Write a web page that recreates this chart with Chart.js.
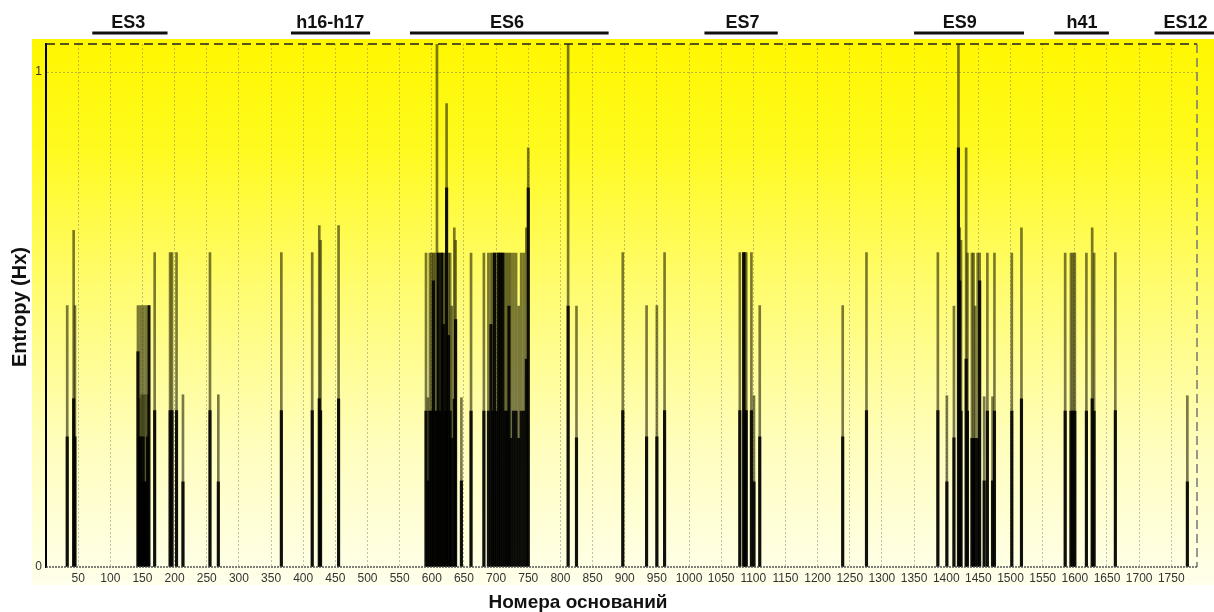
<!DOCTYPE html>
<html>
<head>
<meta charset="utf-8">
<script src="https://cdn.jsdelivr.net/npm/chart.js"></script>
<style>
  body { margin: 0; background: #fff; }
  #wrap { width: 1214px; height: 612px; }
</style>
</head>
<body>
<div id="wrap"><canvas id="chart" width="1214" height="612"></canvas></div>
<script>
// номера оснований (позиции) и значения энтропии
const positions = [
  33, 43, 45,
  143, 145, 147, 149, 151, 153, 155, 158, 160, 169,
  193, 196, 203, 213, 255, 268, 366, 414, 425, 427, 455,
  591, 594, 597, 600, 602.5, 605, 608, 610, 613, 615.5, 618, 621, 623, 626, 628.5, 631, 635, 637, 646, 661,
  681, 688, 692, 695, 697.5, 701, 704, 707, 710.5, 714, 717, 720, 723, 727, 731, 735, 739, 743, 747, 750,
  812, 825,
  897, 934, 950, 962, 1079, 1085, 1087, 1089, 1097, 1101, 1110,
  1239, 1276, 1387, 1401,
  1412, 1419, 1421, 1423, 1431, 1433, 1440, 1442.5, 1445, 1449, 1452, 1459, 1464, 1472, 1475, 1502, 1517,
  1585, 1594, 1597, 1600, 1618, 1627, 1630, 1663, 1775
];
// верх тонкой линии
const hxPeak = [
  0.528, 0.68, 0.528,
  0.528, 0.34, 0.528, 0.348, 0.528, 0.348, 0.528, 0.348, 0.528, 0.635,
  0.635, 0.635, 0.635, 0.348, 0.635, 0.348, 0.635, 0.635, 0.69, 0.66, 0.69,
  0.634, 0.342, 0.634, 0.634, 0.634, 0.634, 1.06, 0.634, 0.634, 0.634, 0.634, 0.634, 0.936, 0.634, 0.634, 0.527, 0.685, 0.66, 0.342, 0.634,
  0.634, 0.634, 0.634, 0.634, 0.634, 0.634, 0.634, 0.634, 0.634, 0.634, 0.634, 0.634, 0.634, 0.634, 0.634, 0.527, 0.634, 0.634, 0.685, 0.847,
  1.06, 0.527,
  0.635, 0.528, 0.528, 0.635, 0.635, 0.635, 0.635, 0.635, 0.635, 0.346, 0.528,
  0.528, 0.635, 0.635, 0.346,
  0.527, 1.06, 0.685, 0.66, 0.847, 0.634, 0.634, 0.634, 0.527, 0.634, 0.634, 0.344, 0.634, 0.344, 0.634, 0.634, 0.685,
  0.634, 0.634, 0.634, 0.634, 0.634, 0.685, 0.634, 0.635, 0.346
];
// тёмная (плотная) часть
const hxCore = [
  0.263, 0.34, 0.263,
  0.435, 0.263, 0.263, 0.172, 0.263, 0.172, 0.172, 0.263, 0.528, 0.316,
  0.316, 0.316, 0.316, 0.172, 0.316, 0.172, 0.316, 0.316, 0.34, 0.316, 0.34,
  0.315, 0.174, 0.315, 0.315, 0.578, 0.315, 0.315, 0.634, 0.315, 0.634, 0.49, 0.315, 0.766, 0.468, 0.315, 0.26, 0.339, 0.5, 0.174, 0.315,
  0.315, 0.315, 0.49, 0.315, 0.634, 0.315, 0.634, 0.634, 0.634, 0.315, 0.315, 0.527, 0.26, 0.315, 0.315, 0.26, 0.315, 0.315, 0.42, 0.766,
  0.527, 0.261,
  0.316, 0.263, 0.263, 0.316, 0.316, 0.635, 0.316, 0.316, 0.316, 0.172, 0.263,
  0.263, 0.316, 0.316, 0.172,
  0.261, 0.847, 0.578, 0.315, 0.42, 0.315, 0.26, 0.26, 0.26, 0.26, 0.578, 0.174, 0.315, 0.174, 0.315, 0.315, 0.34,
  0.315, 0.315, 0.315, 0.315, 0.315, 0.34, 0.315, 0.316, 0.172
];

const xTickValues = [50,100,150,200,250,300,350,400,450,500,550,600,650,700,750,800,850,900,950,1000,
  1050,1100,1150,1200,1250,1300,1350,1400,1450,1500,1550,1600,1650,1700,1750];
const yTickValues = [0, 1];

// участки над графиком
const regionNames = ['ES3', 'h16-h17', 'ES6', 'ES7', 'ES9', 'h41', 'ES12'];
const regionStart = [72, 381, 566, 1024, 1350, 1568, 1724];
const regionEnd   = [189, 504, 875, 1138, 1521, 1653, 1820];
const regionLabel = [128, 442, 717, 1083, 1421, 1611, 1772];

const X_MAX = 1790;
const Y_MAX = 1.0566;

const FONT = '"Liberation Sans", Arial, sans-serif';

const decorPlugin = {
  id: 'decor',
  beforeDraw(chart) {
    const ctx = chart.ctx;
    ctx.save();
    const g = ctx.createLinearGradient(0, 39, 0, 585);
    g.addColorStop(0, 'rgb(255,247,0)');
    g.addColorStop(0.2, 'rgb(255,250,30)');
    g.addColorStop(0.45, 'rgb(255,252,110)');
    g.addColorStop(0.75, 'rgb(255,254,190)');
    g.addColorStop(1, 'rgb(255,255,235)');
    ctx.fillStyle = g;
    ctx.fillRect(32, 39, 1214 - 32, 585 - 39);
    ctx.restore();
  },
  afterDraw(chart) {
    const ctx = chart.ctx;
    const a = chart.chartArea;
    const xs = chart.scales.x;
    ctx.save();
    // рамка: верх и право пунктиром, низ точками
    ctx.setLineDash([9, 5]);
    ctx.lineWidth = 1.5;
    ctx.strokeStyle = '#222';
    ctx.beginPath();
    ctx.moveTo(a.left, a.top);
    ctx.lineTo(a.right, a.top);
    ctx.stroke();
    ctx.strokeStyle = '#777';
    ctx.beginPath();
    ctx.moveTo(a.right, a.top);
    ctx.lineTo(a.right, a.bottom);
    ctx.stroke();
    ctx.setLineDash([2, 1]);
    ctx.strokeStyle = '#555';
    ctx.beginPath();
    ctx.moveTo(a.left, a.bottom);
    ctx.lineTo(a.right, a.bottom);
    ctx.stroke();
    ctx.setLineDash([]);

    // подписи участков
    ctx.fillStyle = '#111';
    ctx.strokeStyle = '#111';
    ctx.lineWidth = 3;
    ctx.font = 'bold 18px ' + FONT;
    ctx.textAlign = 'center';
    ctx.textBaseline = 'alphabetic';
    regionNames.forEach((name, i) => {
      const x1 = xs.getPixelForValue(regionStart[i]);
      const x2 = Math.min(xs.getPixelForValue(regionEnd[i]), 1214);
      ctx.beginPath();
      ctx.moveTo(x1, 33);
      ctx.lineTo(x2, 33);
      ctx.stroke();
      ctx.fillText(name, xs.getPixelForValue(regionLabel[i]), 28);
    });

    // заголовки осей
    ctx.font = 'bold 19px ' + FONT;
    ctx.fillText('Номера оснований', 578, 608);
    ctx.translate(26, 307);
    ctx.rotate(-Math.PI / 2);
    ctx.font = 'bold 20px ' + FONT;
    ctx.fillText('Entropy (Hx)', 0, 0);
    ctx.restore();
  }
};

const toPoints = vals => positions.map((p, i) => ({ x: p, y: vals[i] }));

new Chart(document.getElementById('chart'), {
  type: 'bar',
  data: {
    datasets: [
      {
        label: 'core',
        data: toPoints(hxCore),
        backgroundColor: 'rgba(0,0,0,0.88)',
        barThickness: 2.5,
        grouped: false
      },
      {
        label: 'Hx',
        data: toPoints(hxPeak),
        backgroundColor: 'rgba(40,40,5,0.62)',
        barThickness: 2,
        grouped: false
      }
    ]
  },
  options: {
    responsive: false,
    animation: false,
    devicePixelRatio: 1,
    layout: { padding: { top: 44, right: 17, left: 0, bottom: 0 } },
    plugins: { legend: { display: false }, tooltip: { enabled: false } },
    scales: {
      x: {
        type: 'linear',
        min: 0,
        max: X_MAX,
        offset: false,
        afterBuildTicks: s => { s.ticks = xTickValues.map(v => ({ value: v })); },
        afterFit: s => { s.height = 45; },
        ticks: {
          color: '#333', font: { family: FONT, size: 12 }, padding: 4, maxRotation: 0, autoSkip: false,
          callback: v => String(v)
        },
        grid: { offset: false, drawTicks: false, color: 'rgba(120,120,100,0.45)', lineWidth: 1 },
        border: { display: false, dash: [2, 2] }
      },
      y: {
        min: 0,
        max: Y_MAX,
        afterBuildTicks: s => { s.ticks = yTickValues.map(v => ({ value: v })); },
        afterFit: s => { s.width = 46; },
        ticks: { color: '#333', font: { family: FONT, size: 12 }, padding: 4, callback: v => String(v) },
        grid: {
          drawTicks: false,
          color: c => (c.tick && c.tick.value === 1 ? 'rgba(120,120,100,0.5)' : 'transparent')
        },
        border: { color: '#000', width: 2, dash: [2, 2] }
      }
    }
  },
  plugins: [decorPlugin]
});
</script>
</body>
</html>
